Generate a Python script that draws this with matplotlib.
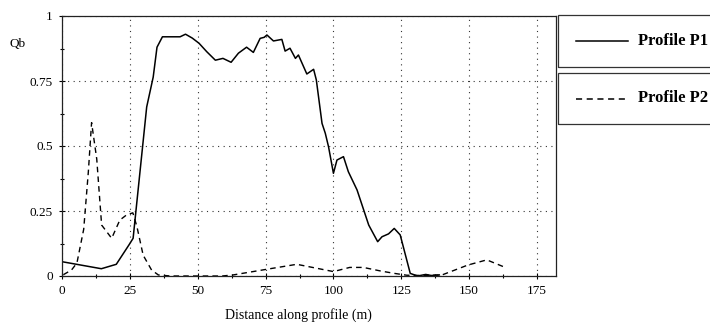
import matplotlib
matplotlib.use("Agg")
import matplotlib.pyplot as plt
from matplotlib.patches import Rectangle
from matplotlib.lines import Line2D
from matplotlib.ticker import MultipleLocator

plt.rcParams['font.family'] = ['Liberation Serif', 'DejaVu Serif']

p1_x = [0, 14.5, 20, 24.7, 26.2, 31.2, 33.6, 35, 37, 43.5, 45.5, 48, 50.5, 53.3, 56.5,
        59.3, 62.3, 65, 68, 70.5, 73, 74.5, 75.5, 77.9, 81, 82.2, 84, 86, 87.1, 90.2,
        92.7, 93.7, 95.8, 97, 98.2, 100, 101.3, 103.7, 105.5, 108.7, 113, 116.3, 117.9,
        120.3, 122.4, 124.6, 128.3, 131, 134, 136, 139]
p1_y = [0.055, 0.028, 0.045, 0.12, 0.145, 0.65, 0.765, 0.88, 0.92, 0.92, 0.93, 0.915,
        0.895, 0.863, 0.83, 0.837, 0.822, 0.857, 0.88, 0.86, 0.914, 0.918, 0.927, 0.904,
        0.91, 0.865, 0.876, 0.837, 0.85, 0.777, 0.795, 0.754, 0.587, 0.549, 0.497, 0.395,
        0.446, 0.459, 0.401, 0.331, 0.196, 0.132, 0.151, 0.162, 0.183, 0.158, 0.01, 0.0,
        0.006, 0.002, 0.004]

p2_x = [0.5, 3.5, 5.5, 8, 9.7, 10.9, 12.8, 14.6, 18.3, 21.3, 23.8, 26.1, 27.6, 29.9, 33,
        35.5, 40, 50, 59, 63, 75.5, 86.5, 100, 106, 111, 117.5, 122.5, 127, 133, 140,
        149.5, 156.5, 163.3]
p2_y = [0.005, 0.023, 0.05, 0.18, 0.40, 0.59, 0.45, 0.196, 0.145, 0.215, 0.235, 0.243,
        0.19, 0.08, 0.023, 0.004, 0.0, 0.0, 0.0, 0.004, 0.026, 0.045, 0.017, 0.033, 0.033,
        0.019, 0.01, 0.003, 0.002, 0.004, 0.042, 0.062, 0.033]

x_ticks = [0, 25, 50, 75, 100, 125, 150, 175]
y_ticks = [0, 0.25, 0.5, 0.75, 1]
y_ticklabels = ['0', '0.25', '0.5', '0.75', '1']
legend_labels = ['Profile P1', 'Profile P2']

fig = plt.figure(figsize=(7.10, 3.24), dpi=100)
W, H = 710, 324
ax = fig.add_axes([62 / W, (H - 276) / H, 494 / W, 260 / H])

ax.plot(p1_x, p1_y, color='black', lw=1.1, ls='-')
ax.plot(p2_x, p2_y, color='black', lw=1.0, ls=(0, (4, 3)))

ax.set_xlim(0, 182)
ax.set_ylim(0, 1)
ax.set_xticks(x_ticks)
ax.set_yticks(y_ticks)
ax.set_yticklabels(y_ticklabels)
ax.xaxis.set_minor_locator(MultipleLocator(12.5))
ax.yaxis.set_minor_locator(MultipleLocator(0.125))
ax.tick_params(which='both', direction='inout', labelsize=9.5, color='black')
ax.tick_params(which='major', length=5, width=0.8)
ax.tick_params(which='minor', length=3, width=0.8)
ax.tick_params(axis='y', pad=4)
ax.tick_params(axis='x', pad=4)
ax.grid(True, which='major', color='#333333', ls=(0, (1, 4)), lw=0.8)
for s in ax.spines.values():
    s.set_linewidth(0.9)
    s.set_color('#222222')

fig.text(298 / W, 1 - 315 / H, 'Distance along profile (m)', fontsize=10,
         ha='center', va='center')
fig.text(18 / W, 1 - 44 / H, 'Qb', fontsize=9.5, ha='center', va='center')

# legend boxes
boxes = [(15, 67), (73, 124)]
styles = ['-', (0, (4, 3))]
for (top, bot), st, lab in zip(boxes, styles, legend_labels):
    fig.patches.append(Rectangle((558 / W, 1 - bot / H), (715 - 558) / W, (bot - top) / H,
                                 transform=fig.transFigure, fill=False,
                                 edgecolor='#333333', lw=0.9))
    yc = 1 - ((top + bot) / 2) / H
    fig.lines.append(Line2D([576 / W, 628 / W], [yc, yc], transform=fig.transFigure,
                            color='black', lw=1.1, ls=st))
    fig.text(638 / W, yc, lab, fontsize=12, fontweight='bold', ha='left', va='center')

fig.savefig('out.png', dpi=100)
